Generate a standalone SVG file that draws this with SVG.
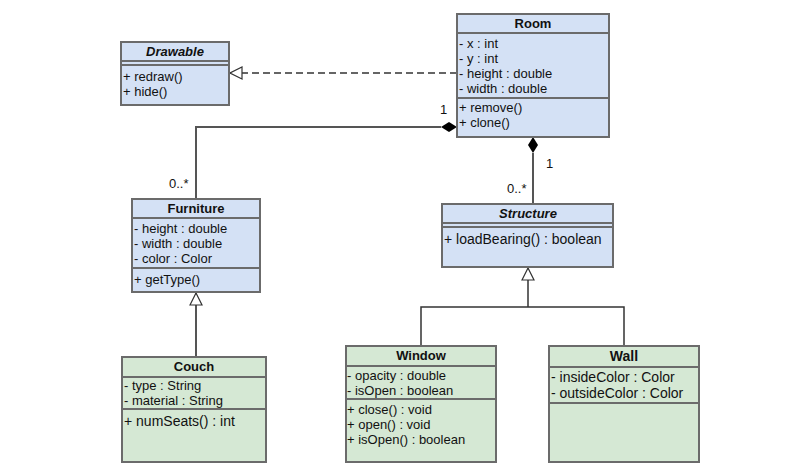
<svg xmlns="http://www.w3.org/2000/svg" width="800" height="467" viewBox="0 0 800 467">
<defs>
<style>
.b{fill:#d4e1f5;stroke:#6b6b6b;stroke-width:2}
.g{fill:#d5e8d4;stroke:#6b6b6b;stroke-width:2}
.d{stroke:#6b6b6b;stroke-width:2;fill:none}
text{font-family:"Liberation Sans",Arial,sans-serif;font-size:13px;fill:#111}
.h{font-weight:bold;text-anchor:middle}
.i{font-style:italic}
.l{font-size:14px}
.c{stroke:#555;stroke-width:2;fill:none}
.c1{stroke:#333;stroke-width:1.5;fill:none}
</style>
<marker id="tri" viewBox="0 0 14 14" refX="13" refY="7" markerWidth="14" markerHeight="14" markerUnits="userSpaceOnUse" orient="auto">
<path d="M1,1 L13,7 L1,13 Z" fill="#fff" stroke="#333" stroke-width="1.2"/>
</marker>
</defs>
<g id="connectors">
<path class="c1" d="M457,73 H230" stroke-dasharray="7,4" marker-end="url(#tri)"/>
<path class="c" d="M441,127 H196 V199"/>
<path d="M457,127 L449,122 L441,127 L449,132 Z" fill="#000"/>
<path class="c" d="M533,153 V204"/>
<path d="M533,137 L538,145 L533,153 L528,145 Z" fill="#000"/>
<path class="c" d="M196,357 V293" marker-end="url(#tri)"/>
<path class="c1" d="M421,346 V307 H624 V346 M528,307 V268" marker-end="url(#tri)"/>
<text x="440" y="114">1</text>
<text x="169" y="188">0..*</text>
<text x="546" y="168">1</text>
<text x="507" y="193">0..*</text>
</g>
<g id="Drawable">
<rect class="b" x="121" y="42" width="108" height="63"/>
<path class="d" d="M121,61 H229 M121,65 H229"/>
<text class="h i" x="175" y="56">Drawable</text>
<text x="123" y="81">+ redraw()</text>
<text x="123" y="96">+ hide()</text>
</g>
<g id="Room">
<rect class="b" x="457" y="14" width="152" height="123"/>
<path class="d" d="M457,33 H609 M457,98 H609"/>
<text class="h" x="533" y="28">Room</text>
<text x="459" y="48">- x : int</text>
<text x="459" y="63">- y : int</text>
<text x="459" y="78">- height : double</text>
<text x="459" y="93">- width : double</text>
<text x="459" y="112">+ remove()</text>
<text x="459" y="127">+ clone()</text>
</g>
<g id="Furniture">
<rect class="b" x="132" y="199" width="128" height="93"/>
<path class="d" d="M132,218 H260 M132,268 H260"/>
<text class="h" x="196" y="213">Furniture</text>
<text x="134" y="233">- height : double</text>
<text x="134" y="248">- width : double</text>
<text x="134" y="263">- color : Color</text>
<text x="134" y="284">+ getType()</text>
</g>
<g id="Structure">
<rect class="b" x="442" y="204" width="171" height="63"/>
<path class="d" d="M442,223 H613 M442,227 H613"/>
<text class="h i" x="528" y="218">Structure</text>
<text class="l" x="444" y="244">+ loadBearing() : boolean</text>
</g>
<g id="Couch">
<rect class="g" x="122" y="357" width="144" height="105"/>
<path class="d" d="M122,377 H266 M122,409 H266"/>
<text class="h" x="194" y="371">Couch</text>
<text x="124" y="390">- type : String</text>
<text x="124" y="405">- material : String</text>
<text class="l" x="124" y="426">+ numSeats() : int</text>
</g>
<g id="Window">
<rect class="g" x="346" y="346" width="150" height="116"/>
<path class="d" d="M346,366 H496 M346,399 H496"/>
<text class="h" x="421" y="360">Window</text>
<text x="347" y="380">- opacity : double</text>
<text x="347" y="395">- isOpen : boolean</text>
<text x="347" y="414">+ close() : void</text>
<text x="347" y="429">+ open() : void</text>
<text x="347" y="444">+ isOpen() : boolean</text>
</g>
<g id="Wall">
<rect class="g" x="549" y="346" width="150" height="116"/>
<path class="d" d="M549,367 H699 M549,403 H699"/>
<text class="h l" x="624" y="361">Wall</text>
<text class="l" x="551" y="382">- insideColor : Color</text>
<text class="l" x="551" y="398">- outsideColor : Color</text>
</g>
</svg>
